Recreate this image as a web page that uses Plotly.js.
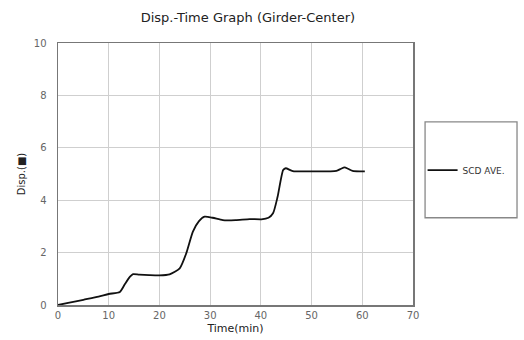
<!DOCTYPE html>
<html><head><meta charset="utf-8">
<script src="https://cdn.plot.ly/plotly-3.0.1.min.js"></script>
<style>html,body{margin:0;padding:0;background:#fff;}#chart{width:524px;height:340px;}</style>
</head><body><div id="chart"></div>
<script>
const timeMin = [0, 2, 5, 8, 10, 12.2, 13.2, 14.2, 14.8, 16, 18, 20, 22, 24, 25.3, 26.6, 27.8, 28.9, 30.5, 32.5, 35, 37.8, 40.1, 41.5, 42.4, 43.3, 44.4, 44.9, 46.3, 50, 54.9, 55.8, 56.5, 57.2, 58.1, 59.5, 60.5];
const dispMm = [0, 0.08, 0.2, 0.32, 0.42, 0.5, 0.8, 1.08, 1.18, 1.16, 1.14, 1.13, 1.17, 1.4, 1.98, 2.8, 3.2, 3.37, 3.33, 3.24, 3.24, 3.28, 3.27, 3.33, 3.5, 4.13, 5.15, 5.22, 5.11, 5.1, 5.12, 5.2, 5.25, 5.2, 5.12, 5.1, 5.1];
const seriesName = 'SCD AVE.';
const xTicks = [0, 10, 20, 30, 40, 50, 60, 70];
const yTicks = [0, 2, 4, 6, 8, 10];

const font = 'DejaVu Sans, sans-serif';
Plotly.newPlot('chart', [{
  x: timeMin, y: dispMm, type: 'scatter', mode: 'lines', name: seriesName,
  line: {color: '#111', width: 1.8, shape: 'spline', smoothing: 0.6}
}], {
  width: 524, height: 340,
  margin: {l: 58, r: 111, t: 43, b: 35, autoexpand: false},
  paper_bgcolor: '#fff', plot_bgcolor: '#fff',
  font: {family: font, size: 10, color: '#444'},
  title: {text: 'Disp.-Time Graph (Girder-Center)', x: 0.473, xanchor: 'center', y: 0.95, yanchor: 'middle', font: {family: font, size: 13, color: '#222'}},
  xaxis: {range: [0, 70], tickvals: xTicks, showgrid: true, gridcolor: '#cfcfcf', gridwidth: 1,
    showline: true, linecolor: '#777', linewidth: 1.5, mirror: true, zeroline: false, ticks: '',
    tickfont: {size: 10, color: '#666'},
    title: {text: 'Time(min)', font: {size: 11, color: '#222'}, standoff: 5}},
  yaxis: {range: [0, 10], tickvals: yTicks, showgrid: true, gridcolor: '#cfcfcf', gridwidth: 1,
    showline: true, linecolor: '#777', linewidth: 1.5, mirror: true, zeroline: false, ticks: '',
    tickfont: {size: 10, color: '#666'}, ticklabelstandoff: 8,
    title: {text: 'Disp.(■)', font: {size: 10, color: '#222'}, standoff: 6}},
  showlegend: true,
  legend: {x: 1.027, xanchor: 'left', y: 0.515, yanchor: 'middle', bgcolor: 'rgba(0,0,0,0)', borderwidth: 0,
    font: {size: 9, color: '#333'}, itemwidth: 30},
  shapes: [{type: 'rect', xref: 'paper', yref: 'paper', x0: 1.034, x1: 1.293, y0: 0.333, y1: 0.699,
    line: {color: '#888', width: 1.3}, fillcolor: 'rgba(0,0,0,0)'}]
}, {displayModeBar: false, staticPlot: true});
</script></body></html>
